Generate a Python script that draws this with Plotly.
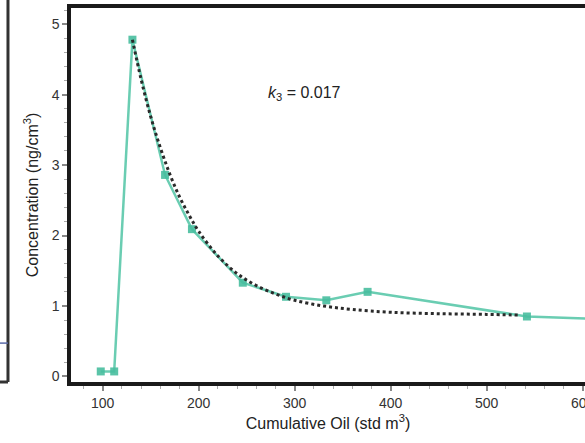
import plotly.graph_objects as go

# Measured data (teal series)
oil_x = [98, 112, 131, 165, 193, 246, 291, 333, 376, 542, 650]
conc_y = [0.07, 0.07, 4.78, 2.86, 2.09, 1.33, 1.13, 1.08, 1.20, 0.85, 0.80]

# Fitted curve (dotted)
fit_x = [131, 140, 150, 160, 170, 180, 190, 200, 220, 240, 260, 280, 300, 330, 360, 400, 450, 500, 533]
fit_y = [4.78, 4.22, 3.69, 3.25, 2.87, 2.55, 2.29, 2.06, 1.71, 1.46, 1.29, 1.17, 1.08, 1.00, 0.95, 0.91, 0.89, 0.88, 0.87]

x_ticks = [100, 200, 300, 400, 500, 600]
y_ticks = [0, 1, 2, 3, 4, 5]

teal = "rgba(80,196,164,0.85)"

fig = go.Figure()
fig.add_trace(go.Scatter(
    x=oil_x, y=conc_y, mode="lines+markers",
    line=dict(color=teal, width=2.5),
    marker=dict(symbol="square", size=8, color="rgba(72,190,158,0.9)"),
    showlegend=False, hoverinfo="skip"))
fig.add_trace(go.Scatter(
    x=fit_x, y=fit_y, mode="lines",
    line=dict(color="#2a2a2a", width=3, dash="dot", shape="spline"),
    showlegend=False, hoverinfo="skip"))

fig.add_annotation(x=310, y=4.02, xref="x", yref="y",
                   text="<i>k</i><sub>3</sub> = 0.017", showarrow=False,
                   font=dict(size=16, color="#222", family="Liberation Sans, Arial, sans-serif"))

# artifacts of neighbouring panel at left edge
fig.add_shape(type="line", xref="paper", yref="paper", x0=-0.1226, x1=-0.1226, y0=1.03, y1=0.0,
              line=dict(color="#333", width=3))
fig.add_shape(type="line", xref="paper", yref="paper", x0=-0.14, x1=-0.1226, y0=0.0, y1=0.0,
              line=dict(color="#333", width=3))
fig.add_shape(type="line", xref="paper", yref="paper", x0=-0.14, x1=-0.1226, y0=0.104, y1=0.104,
              line=dict(color="#5a6aa8", width=1.5))

axis_font = dict(size=14, color="#333", family="Liberation Sans, Arial, sans-serif")

fig.update_layout(
    width=585, height=443,
    margin=dict(l=71, r=0, t=8, b=61),
    paper_bgcolor="white", plot_bgcolor="white",
    font=dict(family="Liberation Sans, Arial, sans-serif", color="#222"),
    xaxis=dict(range=[67, 602.5], tickvals=x_ticks, ticks="outside", ticklen=5, tickwidth=1.5,
               tickcolor="#888", showline=True, linecolor="#1a1a1a", linewidth=3.5, mirror=True,
               showgrid=False, zeroline=False, tickfont=axis_font, ticklabeloverflow="allow",
               automargin=False,
               minor=dict(dtick=20, ticks="outside", ticklen=3, tickcolor="#aaa", tickwidth=1),
               title=dict(text="Cumulative Oil (std m<sup>3</sup>)", font=dict(size=16, color="#222"), standoff=9)),
    yaxis=dict(range=[-0.08, 5.23], tickvals=y_ticks, ticks="outside", ticklen=5, tickwidth=1.5,
               tickcolor="#888", showline=True, linecolor="#1a1a1a", linewidth=3.5, mirror=False,
               showgrid=False, zeroline=False, tickfont=axis_font, automargin=False,
               minor=dict(dtick=0.2, ticks="outside", ticklen=3, tickcolor="#aaa", tickwidth=1),
               title=dict(text="Concentration (ng/cm<sup>3</sup>)", font=dict(size=16, color="#222"), standoff=10)),
)

fig.write_html("out.html")
